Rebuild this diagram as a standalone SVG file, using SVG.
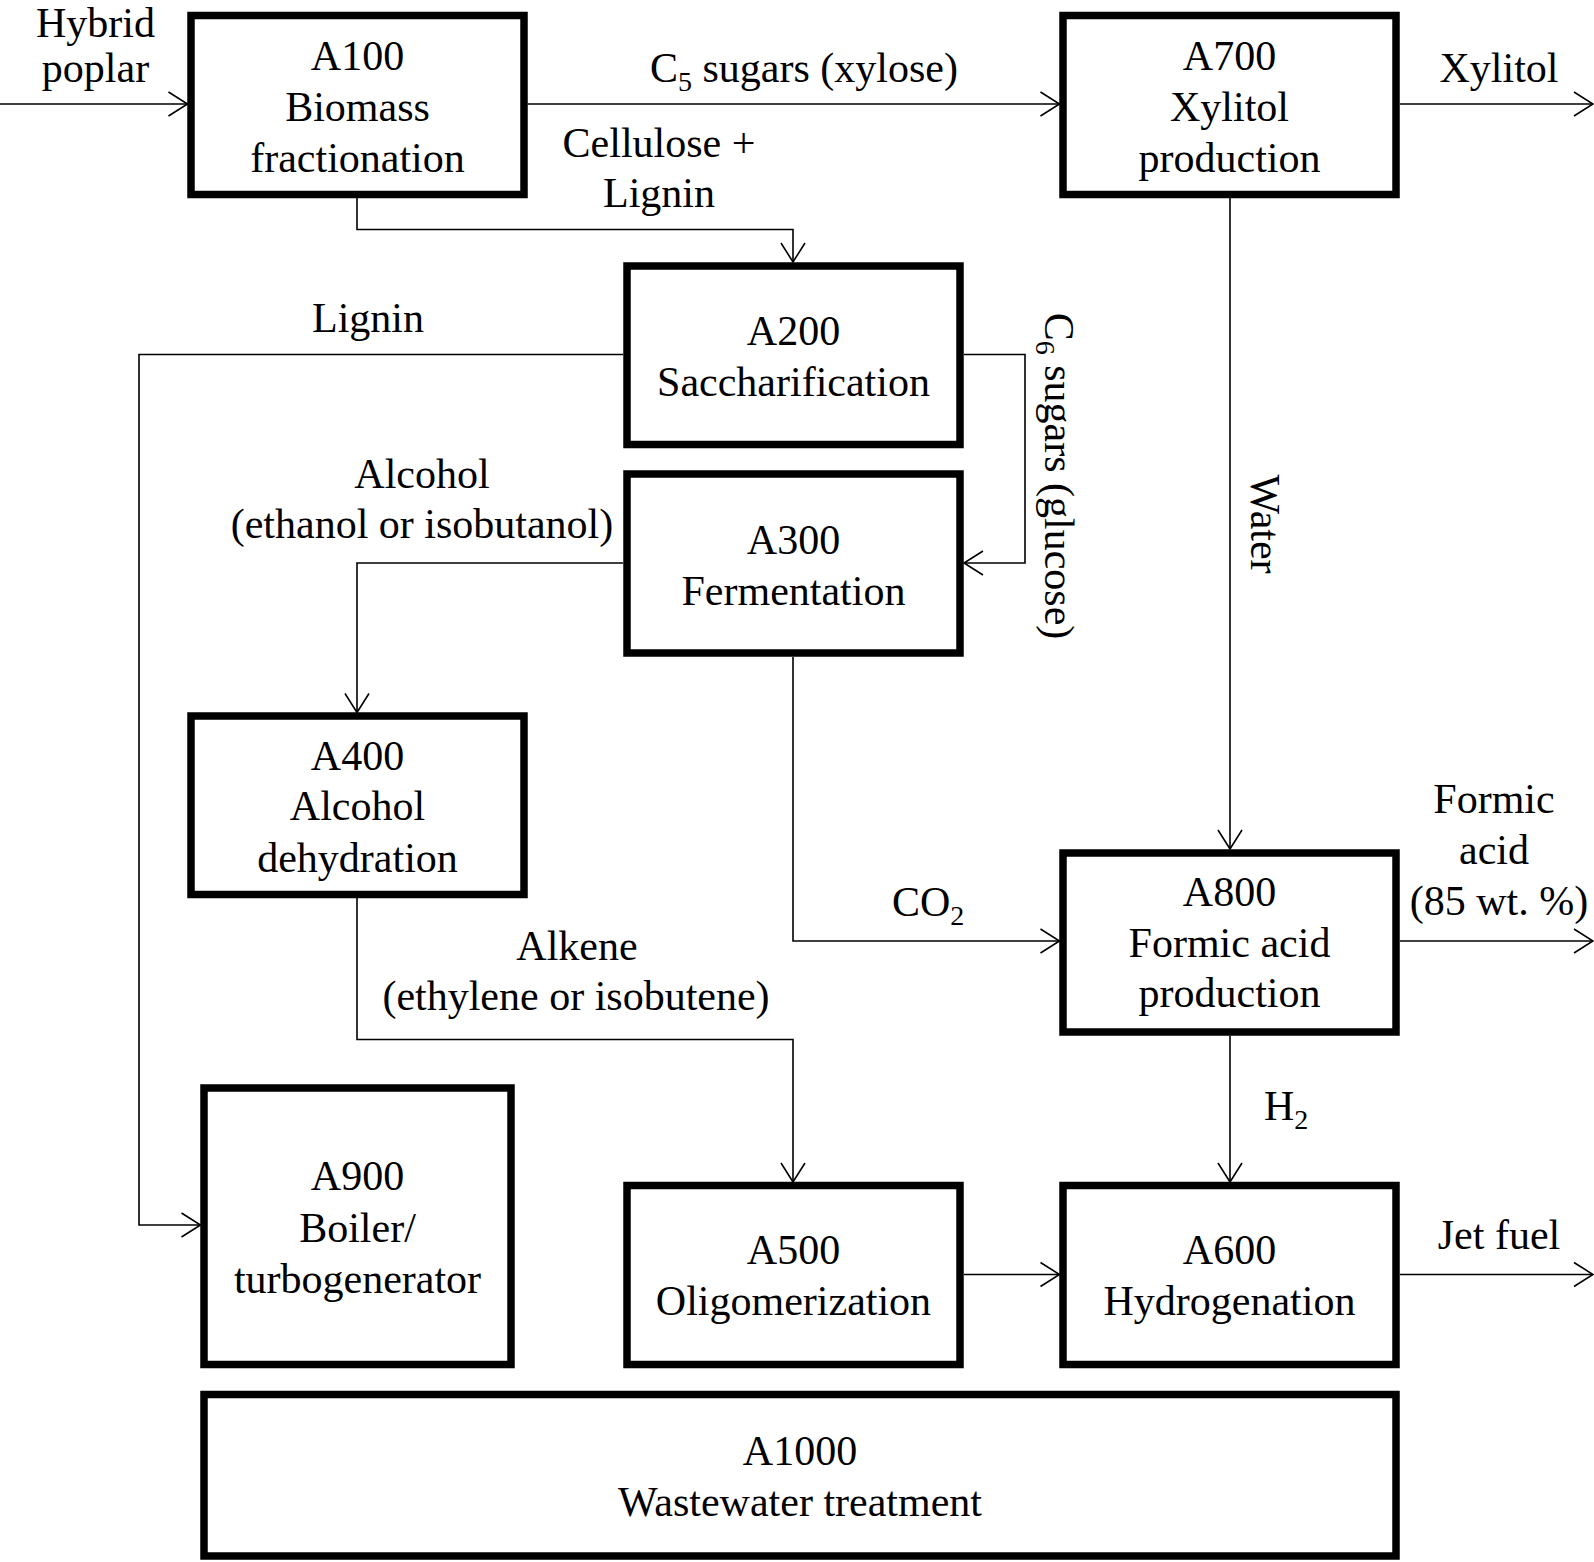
<svg xmlns="http://www.w3.org/2000/svg" width="1594" height="1562" viewBox="0 0 1594 1562">
<style>
text{font-family:"Liberation Serif","Times New Roman",serif;font-size:42px;fill:#000}
.c{text-anchor:middle}
.box{fill:#fff;stroke:#000;stroke-width:7.5}
.ln{fill:none;stroke:#000;stroke-width:1.6}
.sub{font-size:28px}
</style>
<defs>
<marker id="ah" markerUnits="userSpaceOnUse" markerWidth="40" markerHeight="40" viewBox="-30 -20 40 40" refX="0" refY="0" orient="auto" overflow="visible">
<path d="M-19,-12 L0,0 L-19,12" fill="none" stroke="#000" stroke-width="1.6"/>
</marker>
</defs>
<rect width="1594" height="1562" fill="#fff"/>
<g id="connectors">
<path class="ln" d="M0,104 H187.5" marker-end="url(#ah)"/>
<path class="ln" d="M527.5,104 H1059.5" marker-end="url(#ah)"/>
<path class="ln" d="M1400,104 H1593" marker-end="url(#ah)"/>
<path class="ln" d="M357,198 V229.5 H793 V262" marker-end="url(#ah)"/>
<path class="ln" d="M623,354.5 H139 V1225 H200.5" marker-end="url(#ah)"/>
<path class="ln" d="M964,354.5 H1025 V563 H964" marker-end="url(#ah)"/>
<path class="ln" d="M623,563 H357 V712.5" marker-end="url(#ah)"/>
<path class="ln" d="M793,657 V941 H1059.5" marker-end="url(#ah)"/>
<path class="ln" d="M1230,198 V849" marker-end="url(#ah)"/>
<path class="ln" d="M357,898 V1039.5 H793 V1182" marker-end="url(#ah)"/>
<path class="ln" d="M1400,941 H1593" marker-end="url(#ah)"/>
<path class="ln" d="M1230,1035.5 V1182" marker-end="url(#ah)"/>
<path class="ln" d="M964,1274.5 H1059.5" marker-end="url(#ah)"/>
<path class="ln" d="M1400,1274.5 H1593" marker-end="url(#ah)"/>
</g>
<g id="labels">
<text class="c" x="95.5" y="37">Hybrid</text>
<text class="c" x="95.5" y="82">poplar</text>
<text x="650" y="82">C<tspan class="sub" dy="9">5</tspan><tspan dy="-9"> sugars (xylose)</tspan></text>
<text class="c" x="659" y="157">Cellulose +</text>
<text class="c" x="659" y="207">Lignin</text>
<text class="c" x="1499" y="82">Xylitol</text>
<text class="c" x="368" y="331.5">Lignin</text>
<text class="c" transform="translate(1045,476) rotate(90)">C<tspan class="sub" dy="9">6</tspan><tspan dy="-9"> sugars (glucose)</tspan></text>
<text class="c" x="422" y="488">Alcohol</text>
<text class="c" x="422" y="538">(ethanol or isobutanol)</text>
<text class="c" transform="translate(1251,524) rotate(90)">Water</text>
<text class="c" x="1494" y="813">Formic</text>
<text class="c" x="1494" y="864">acid</text>
<text class="c" x="1499" y="914.5">(85 wt. %)</text>
<text x="892" y="916">CO<tspan class="sub" dy="9">2</tspan></text>
<text class="c" x="577" y="960">Alkene</text>
<text class="c" x="576" y="1010">(ethylene or isobutene)</text>
<text x="1264" y="1120">H<tspan class="sub" dy="9">2</tspan></text>
<text class="c" x="1499" y="1249">Jet fuel</text>
</g>
<g id="A100">
<rect class="box" x="191" y="15.5" width="333" height="179"/>
<text class="c" x="357.5" y="69.5">A100</text>
<text class="c" x="357.5" y="120.5">Biomass</text>
<text class="c" x="357.5" y="171.5">fractionation</text>
</g>
<g id="A700">
<rect class="box" x="1063" y="15.5" width="333" height="179"/>
<text class="c" x="1229.5" y="69.5">A700</text>
<text class="c" x="1229.5" y="120.5">Xylitol</text>
<text class="c" x="1229.5" y="171.5">production</text>
</g>
<g id="A200">
<rect class="box" x="627" y="266" width="333" height="178.5"/>
<text class="c" x="793.5" y="345">A200</text>
<text class="c" x="793.5" y="396">Saccharification</text>
</g>
<g id="A300">
<rect class="box" x="627" y="474" width="333" height="179"/>
<text class="c" x="793.5" y="554">A300</text>
<text class="c" x="793.5" y="605">Fermentation</text>
</g>
<g id="A400">
<rect class="box" x="191" y="716" width="333" height="178.5"/>
<text class="c" x="357.5" y="769.5">A400</text>
<text class="c" x="357.5" y="820">Alcohol</text>
<text class="c" x="357.5" y="871.5">dehydration</text>
</g>
<g id="A800">
<rect class="box" x="1063" y="853" width="333" height="179"/>
<text class="c" x="1229.5" y="906">A800</text>
<text class="c" x="1229.5" y="957">Formic acid</text>
<text class="c" x="1229.5" y="1007">production</text>
</g>
<g id="A900">
<rect class="box" x="204" y="1088" width="307" height="276.5"/>
<text class="c" x="357.5" y="1190">A900</text>
<text class="c" x="357.5" y="1241.5">Boiler/</text>
<text class="c" x="357.5" y="1292.5">turbogenerator</text>
</g>
<g id="A500">
<rect class="box" x="627" y="1185.5" width="333" height="179"/>
<text class="c" x="793.5" y="1264">A500</text>
<text class="c" x="793.5" y="1315">Oligomerization</text>
</g>
<g id="A600">
<rect class="box" x="1063" y="1185.5" width="333" height="179"/>
<text class="c" x="1229.5" y="1264">A600</text>
<text class="c" x="1229.5" y="1315">Hydrogenation</text>
</g>
<g id="A1000">
<rect class="box" x="204" y="1394.5" width="1192" height="161.5"/>
<text class="c" x="800" y="1465">A1000</text>
<text class="c" x="800" y="1516">Wastewater treatment</text>
</g>
</svg>
